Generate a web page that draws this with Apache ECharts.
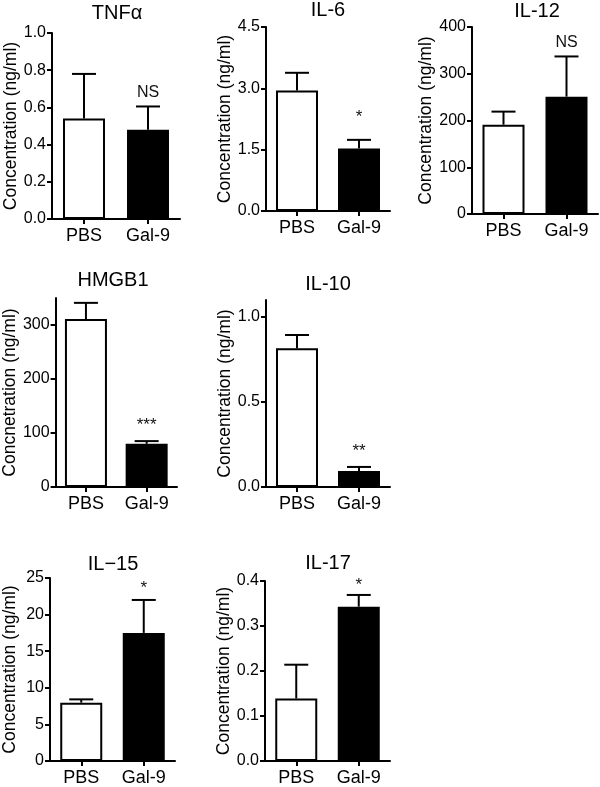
<!DOCTYPE html>
<html>
<head>
<meta charset="utf-8">
<script src="https://cdn.jsdelivr.net/npm/echarts@6/dist/echarts.min.js"></script>
<style>
html,body{margin:0;padding:0;background:#fff;}
#chart{width:600px;height:787px;}
</style>
</head>
<body>
<div id="chart"></div>
<script>
// ---- data ----
const categories = ['PBS', 'Gal-9'];
const titles = ['TNFα', 'IL-6', 'IL-12', 'HMGB1', 'IL-10', 'IL\u221215', 'IL-17'];
const yNames = ['Concentration (ng/ml)', 'Concentration (ng/ml)', 'Concentration (ng/ml)',
  'Concnetration (ng/ml)', 'Concentration (ng/ml)', 'Concentration (ng/ml)', 'Concentration (ng/ml)'];
const pbsMean = [0.54, 2.95, 191, 311, 0.816, 7.97, 0.139];
const pbsSem = [0.24, 0.43, 28, 30, 0.078, 0.45, 0.075];
const gal9Mean = [0.48, 1.53, 251, 80, 0.094, 17.5, 0.343];
const gal9Sem = [0.125, 0.21, 86, 5, 0.024, 4.5, 0.026];
const sigLabels = ['NS', '*', 'NS', '***', '**', '*', '*'];
const sigPos = [0.68, 2.3, 367, 114, 0.21, 23.6, 0.39];
const yMax = [1.0, 4.5, 400, 350, 1.1, 25, 0.4];
const yTicks = [
  [0, 0.2, 0.4, 0.6, 0.8, 1.0],
  [0, 1.5, 3.0, 4.5],
  [0, 100, 200, 300, 400],
  [0, 100, 200, 300],
  [0, 0.5, 1.0],
  [0, 5, 10, 15, 20, 25],
  [0, 0.1, 0.2, 0.3, 0.4]
];
const tickDecimals = [1, 1, 0, 0, 1, 0, 1];

// ---- layout ----
const grids = [
  {left: 52, top: 33, width: 128, height: 186},
  {left: 266, top: 27, width: 124, height: 184},
  {left: 472, top: 27, width: 126, height: 187},
  {left: 52, top: 298, width: 125, height: 189},
  {left: 266, top: 300, width: 124, height: 187},
  {left: 47, top: 578, width: 128, height: 186},
  {left: 265, top: 581, width: 125, height: 181}
];
const titlePos = [
  {x: 117, y: 3}, {x: 328, y: 0}, {x: 537, y: 1},
  {x: 113, y: 270}, {x: 328, y: 274}, {x: 113, y: 554}, {x: 328, y: 553}
];

const FONT = '"Liberation Sans", Arial, Helvetica, sans-serif';
const chart = echarts.init(document.getElementById('chart'), null, {renderer: 'canvas'});

const option = {
  backgroundColor: '#ffffff',
  animation: false,
  textStyle: {fontFamily: FONT, color: '#000'},
  title: titles.map((t, i) => ({
    text: t, left: titlePos[i].x, top: titlePos[i].y, textAlign: 'center', padding: 0,
    textStyle: {fontFamily: FONT, fontSize: 20, fontWeight: 'normal', color: '#000'}
  })),
  grid: grids.map(g => Object.assign({containLabel: false}, g)),
  xAxis: grids.map((g, i) => ({
    type: 'category', gridIndex: i, data: categories,
    axisLine: {show: true, lineStyle: {color: '#000', width: 2}},
    axisTick: {show: true, alignWithLabel: true, length: 5, lineStyle: {color: '#000', width: 2}},
    axisLabel: {color: '#000', fontSize: 18, fontFamily: FONT, margin: 8},
    splitLine: {show: false}
  })),
  yAxis: grids.map((g, i) => ({
    type: 'value', gridIndex: i, min: 0, max: yMax[i],
    name: yNames[i], nameLocation: 'middle', nameGap: 31, nameRotate: 90,
    nameTextStyle: {fontSize: 17.5, fontFamily: FONT, color: '#000'},
    axisLine: {show: true, lineStyle: {color: '#000', width: 2}},
    axisTick: {show: true, length: 5, lineStyle: {color: '#000', width: 2}, customValues: yTicks[i]},
    axisLabel: {color: '#000', fontSize: 16, fontFamily: FONT, margin: 6, customValues: yTicks[i],
      formatter: v => Number(v).toFixed(tickDecimals[i])},
    splitLine: {show: false}
  })),
  series: []
};

grids.forEach((g, i) => {
  option.series.push({
    type: 'bar', xAxisIndex: i, yAxisIndex: i, barWidth: 42, z: 2,
    data: [
      {value: pbsMean[i], itemStyle: {color: '#fff', borderColor: '#000', borderWidth: 2}},
      {value: gal9Mean[i], itemStyle: {color: '#000', borderColor: '#000', borderWidth: 2}}
    ]
  });
  option.series.push({
    type: 'custom', xAxisIndex: i, yAxisIndex: i, z: 3,
    data: [[0, pbsMean[i], pbsMean[i] + pbsSem[i]], [1, gal9Mean[i], gal9Mean[i] + gal9Sem[i]]],
    renderItem: function (params, api) {
      const x = api.value(0);
      const p0 = api.coord([x, api.value(1)]);
      const p1 = api.coord([x, api.value(2)]);
      const hw = 12;
      return {type: 'group', children: [
        {type: 'line', shape: {x1: p0[0], y1: p0[1], x2: p1[0], y2: p1[1]}, style: {stroke: '#000', lineWidth: 2}},
        {type: 'line', shape: {x1: p1[0] - hw, y1: p1[1], x2: p1[0] + hw, y2: p1[1]}, style: {stroke: '#000', lineWidth: 2}}
      ]};
    }
  });
  option.series.push({
    type: 'custom', xAxisIndex: i, yAxisIndex: i, z: 4,
    data: [[1, sigPos[i]]],
    renderItem: function (params, api) {
      const p = api.coord([api.value(0), api.value(1)]);
      const isStar = sigLabels[i].charAt(0) === '*';
      return {type: 'text', x: p[0], y: p[1],
        style: {text: sigLabels[i], fill: '#111', fontSize: isStar ? 17 : 16, fontFamily: FONT,
          textAlign: 'center', textVerticalAlign: 'middle'}};
    }
  });
});

chart.setOption(option);
</script>
</body>
</html>
